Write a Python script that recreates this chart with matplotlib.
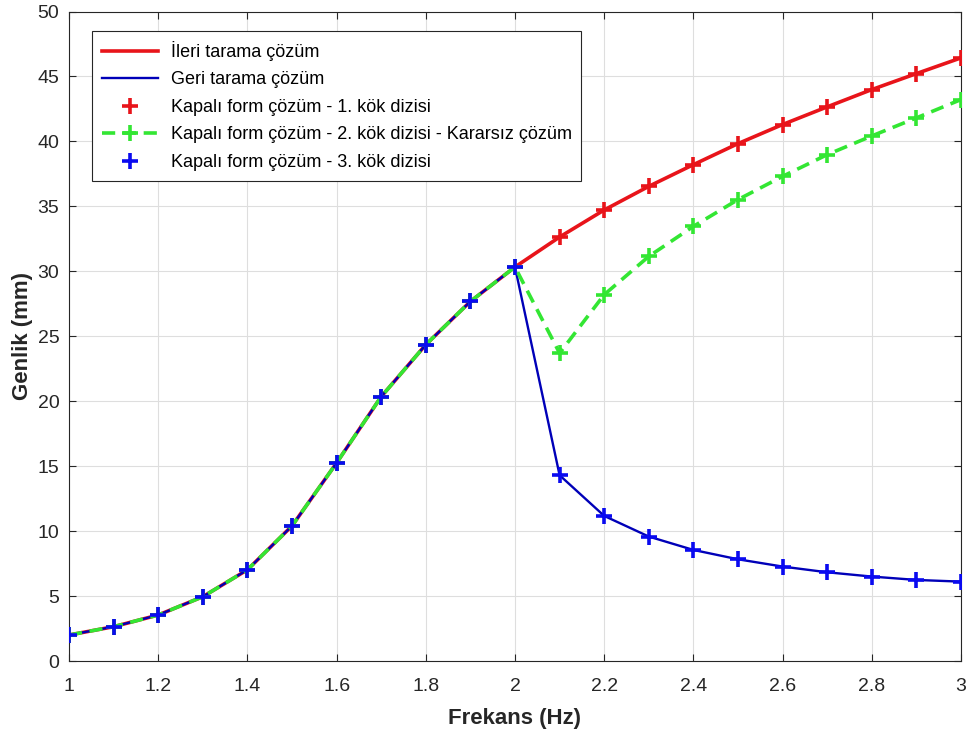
import matplotlib
matplotlib.use("Agg")
import matplotlib.pyplot as plt
import numpy as np

plt.rcParams['font.family'] = ['Liberation Sans', 'DejaVu Sans']
plt.rcParams['lines.scale_dashes'] = False

# Frequency (Hz)
freq = [1.0, 1.1, 1.2, 1.3, 1.4, 1.5, 1.6, 1.7, 1.8, 1.9, 2.0,
        2.1, 2.2, 2.3, 2.4, 2.5, 2.6, 2.7, 2.8, 2.9, 3.0]

# Common low-frequency branch (1.0 - 2.0 Hz)
low_branch = [2.0, 2.64, 3.54, 4.95, 7.02, 10.4, 15.25, 20.35, 24.35, 27.68, 30.33]

# 1st root sequence (upper stable branch), 2.1 - 3.0 Hz
root1_high = [32.64, 34.72, 36.54, 38.21, 39.83, 41.3, 42.66, 43.99, 45.22, 46.43]
# 2nd root sequence (unstable), 2.1 - 3.0 Hz
root2_high = [23.7, 28.2, 31.15, 33.46, 35.52, 37.31, 38.98, 40.42, 41.81, 43.22]
# 3rd root sequence (lower stable branch), 2.1 - 3.0 Hz
root3_high = [14.3, 11.17, 9.58, 8.55, 7.83, 7.27, 6.83, 6.5, 6.24, 6.11]

root1 = low_branch + root1_high
root2 = low_branch + root2_high
root3 = low_branch + root3_high

forward_sweep = root1          # İleri tarama
backward_sweep = root3         # Geri tarama

labels = ['İleri tarama çözüm', 'Geri tarama çözüm',
          'Kapalı form çözüm - 1. kök dizisi',
          'Kapalı form çözüm - 2. kök dizisi - Kararsız çözüm',
          'Kapalı form çözüm - 3. kök dizisi']

xticks = [1, 1.2, 1.4, 1.6, 1.8, 2, 2.2, 2.4, 2.6, 2.8, 3]
xticklabels = ['1', '1.2', '1.4', '1.6', '1.8', '2', '2.2', '2.4', '2.6', '2.8', '3']
yticks = [0, 5, 10, 15, 20, 25, 30, 35, 40, 45, 50]

RED = '#e8141a'
BLUE = '#0000b8'
MBLUE = '#0a0af0'
GREEN = '#33e633'
DARK = '#262626'

fig = plt.figure(figsize=(9.68, 7.31), dpi=100)
ax = fig.add_axes([69/968, 1-661/731, (961-69)/968, (661-11.5)/731])

ms = 11
mew = 2.6
ax.plot(freq, forward_sweep, color=RED, lw=2.6, label=labels[0], zorder=3)
ax.plot(freq, backward_sweep, color=BLUE, lw=1.7, label=labels[1], zorder=4)
ax.plot(freq, root1, ls='none', marker='+', ms=ms, mew=mew, color=RED,
        label=labels[2], zorder=5)
ax.plot(freq, root2, ls='--', dashes=(9.5, 5.5), lw=2.6, marker='+', ms=ms,
        mew=mew, color=GREEN, label=labels[3], zorder=6)
ax.plot(freq, root3, ls='none', marker='+', ms=ms, mew=mew, color=MBLUE,
        label=labels[4], zorder=7)

ax.set_xlim(1, 3)
ax.set_ylim(0, 50)
ax.set_xticks(xticks)
ax.set_xticklabels(xticklabels)
ax.set_yticks(yticks)
ax.grid(True, color='#dedede', lw=0.8, zorder=0)
ax.set_axisbelow(True)
ax.tick_params(direction='in', length=5, width=0.8, colors=DARK,
               labelsize=14, top=True, right=True)
ax.tick_params(axis='x', pad=12)
ax.tick_params(axis='y', pad=7)
for s in ax.spines.values():
    s.set_color(DARK)
    s.set_linewidth(0.8)

ax.set_xlabel('Frekans (Hz)', fontsize=16, fontweight='bold', color=DARK)
ax.set_ylabel('Genlik (mm)', fontsize=16, fontweight='bold', color=DARK)
ax.xaxis.set_label_coords(0.5, -0.073)
ax.yaxis.set_label_coords(-0.040, 0.5)

leg = ax.legend(loc='upper left', bbox_to_anchor=(92/968, 1-31/731),
                bbox_transform=fig.transFigure, borderaxespad=0,
                fontsize=13, handlelength=3.1, handletextpad=0.7,
                labelspacing=0.58, borderpad=0.55, numpoints=1,
                fancybox=False, framealpha=1, edgecolor=DARK)
leg.get_frame().set_linewidth(0.8)

fig.savefig('out.png', dpi=100)
